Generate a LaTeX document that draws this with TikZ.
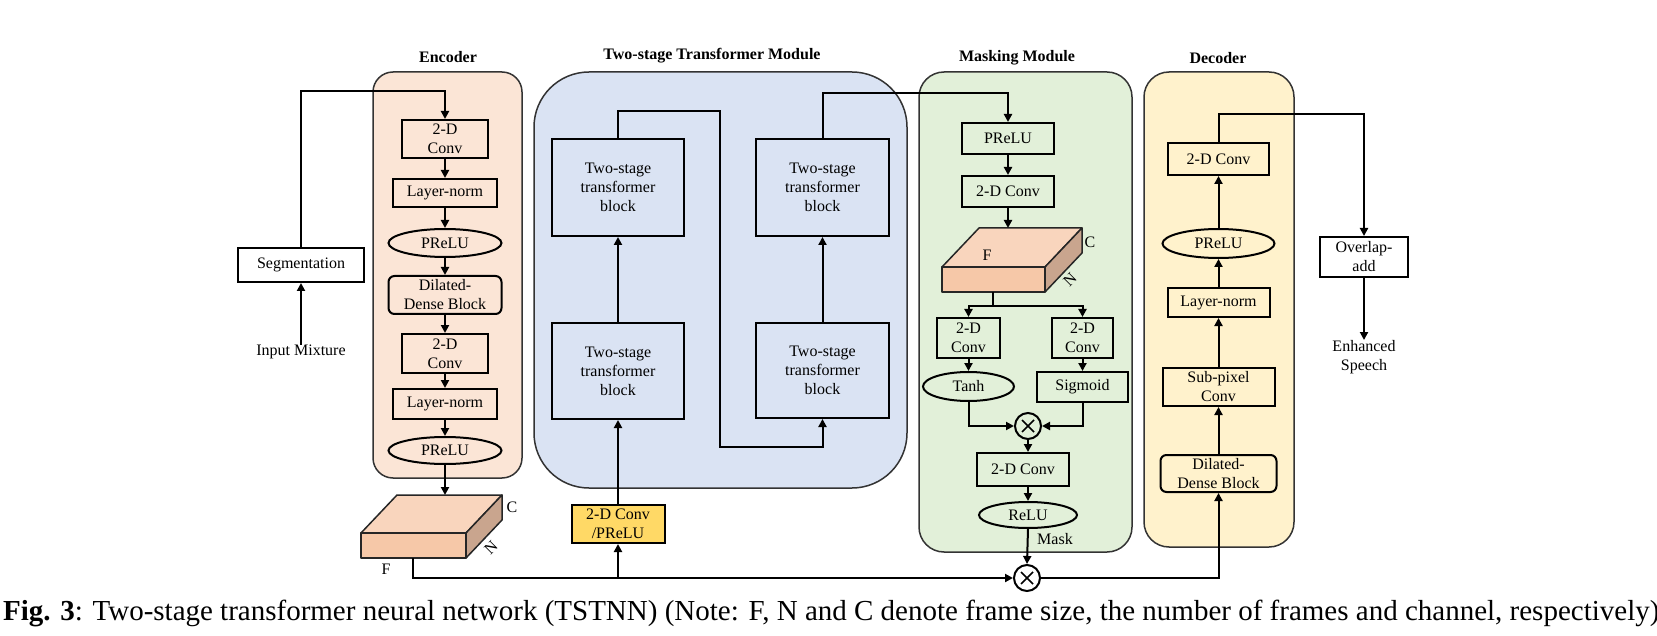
\documentclass[tikz,border=0pt]{standalone}
\usepackage{fontspec}
\setmainfont{Liberation Serif}
\usetikzlibrary{arrows.meta,shapes.geometric,calc}
\definecolor{encbg}{HTML}{FBE5D6}
\definecolor{tsbg}{HTML}{DAE3F3}
\definecolor{maskbg}{HTML}{E2F0D9}
\definecolor{decbg}{HTML}{FFF2CC}
\definecolor{cubetop}{HTML}{F9D5BD}
\definecolor{cubefront}{HTML}{F6C8A8}
\definecolor{cubeside}{HTML}{C9A58E}
\definecolor{convyel}{HTML}{FFD966}
\definecolor{modline}{HTML}{333333}
\newcommand\dfs{\fontsize{16}{19}\selectfont}
\begin{document}
\begin{tikzpicture}[x=1pt,y=-1pt,
  blk/.style={draw,line width=2pt,inner sep=0pt,align=center,font=\dfs},
  rblk/.style={blk,rounded corners=6pt},
  ell/.style={blk,ellipse},
  modbox/.style={draw=modline,line width=1.5pt},
  ln/.style={line width=2pt},
  arr/.style={ln,-{Triangle[length=8pt,width=8pt]}},
  ttl/.style={font=\dfs\bfseries,inner sep=0pt},
  lbl/.style={font=\dfs,inner sep=0pt,align=center},
  cubeedge/.style={draw=black!85,line width=1.5pt,line join=round},
  mult/.style={draw,circle,line width=2pt,minimum size=26pt,inner sep=0pt},
]
\useasboundingbox (0,0) rectangle (1657,636);
\fill[white] (0,0) rectangle (1657,636);

% module backgrounds
\draw[modbox,fill=encbg,rounded corners=20pt] (373,72) rectangle (522,478);
\draw[modbox,fill=tsbg,rounded corners=55pt] (534,72) rectangle (907,488);
\draw[modbox,fill=maskbg,rounded corners=25pt] (919,72) rectangle (1132,552);
\draw[modbox,fill=decbg,rounded corners=25pt] (1144,72) rectangle (1294,547);

% titles
\node[ttl] (tenc) at (448,57) {Encoder};
\node[ttl] (tts) at (712,56) {Two-stage Transformer Module};
\node[ttl] (tmask) at (1017,58) {Masking Module};
\node[ttl] (tdec) at (1218,58) {Decoder};

% left input
\node[blk,minimum width=126pt,minimum height=34pt] (seg) at (301,265) {Segmentation};
\node[lbl] (im) at (301,352) {Input Mixture};
\draw[arr] (im.north) -- (seg.south);

% encoder
\node[blk,minimum width=86pt,minimum height=38pt] (ec1) at (445,139) {2-D\\Conv};
\node[blk,minimum width=104pt,minimum height=28pt] (eln1) at (445,193) {Layer-norm};
\node[ell,minimum width=113pt,minimum height=28pt] (ep1) at (445,243) {PReLU};
\node[rblk,minimum width=113pt,minimum height=38pt] (edd) at (445,295) {Dilated-\\Dense Block};
\node[blk,minimum width=86pt,minimum height=39pt] (ec2) at (445,353.5) {2-D\\Conv};
\node[blk,minimum width=104pt,minimum height=30pt] (eln2) at (445,404) {Layer-norm};
\node[ell,minimum width=113pt,minimum height=27pt] (ep2) at (445,450.5) {PReLU};
\coordinate (segup) at (301,91);
\draw[arr] (seg.north) -- (segup) -| (ec1.north);
\draw[arr] (ec1) -- (eln1);
\draw[arr] (eln1) -- (ep1);
\draw[arr] (ep1) -- (edd);
\draw[arr] (edd) -- (ec2);
\draw[arr] (ec2) -- (eln2);
\draw[arr] (eln2) -- (ep2);

% encoder cube
\filldraw[cubeedge,fill=cubetop] (361,533) -- (466,533) -- (502,495) -- (397,495) -- cycle;
\filldraw[cubeedge,fill=cubeside] (466,533) -- (502,495) -- (502,520) -- (466,558) -- cycle;
\filldraw[cubeedge,fill=cubefront] (361,533) rectangle (466,558);
\coordinate (ecubetop) at (445,495);
\coordinate (ecubebot) at (413,558);
\draw[arr] (ep2.south) -- (ecubetop);
\node[lbl] (ecC) at (512,507) {C};
\node[lbl,rotate=45] (ecN) at (491,548) {N};
\node[lbl] (ecF) at (386,569) {F};

% transformer module
\node[blk,fill=convyel,minimum width=93pt,minimum height=38pt] (cp) at (618,524) {2-D Conv\\/PReLU};
\node[blk,minimum width=132pt,minimum height=97pt,text width=120pt] (tb1) at (618,187.5) {Two-stage\\transformer\\block};
\node[blk,minimum width=132pt,minimum height=96pt,text width=120pt] (tb2) at (618,371) {Two-stage\\transformer\\block};
\node[blk,minimum width=133pt,minimum height=97pt,text width=120pt] (tb3) at (822.5,187.5) {Two-stage\\transformer\\block};
\node[blk,minimum width=133pt,minimum height=95pt,text width=120pt] (tb4) at (822.5,370.5) {Two-stage\\transformer\\block};
\draw[arr] (cp.north) -- (tb2.south);
\draw[arr] (tb2.north) -- (tb1.south);
\coordinate (t1a) at (618,111);
\coordinate (t1b) at (720,111);
\coordinate (t1c) at (720,447);
\draw[arr] (tb1.north) -- (t1a) -- (t1b) -- (t1c) -| (tb4.south);
\draw[arr] (tb4.north) -- (tb3.south);
\coordinate (t3a) at (822.5,93);

% masking module
\node[blk,minimum width=92pt,minimum height=31pt] (mp) at (1008,138.5) {PReLU};
\node[blk,minimum width=92pt,minimum height=31pt] (mc1) at (1008,191.5) {2-D Conv};
\draw[arr] (tb3.north) -- (t3a) -| (mp.north);
\draw[arr] (mp) -- (mc1);
\filldraw[cubeedge,fill=cubetop] (942,267) -- (1045,267) -- (1082,228) -- (979,228) -- cycle;
\filldraw[cubeedge,fill=cubeside] (1045,267) -- (1082,228) -- (1082,253) -- (1045,292) -- cycle;
\filldraw[cubeedge,fill=cubefront] (942,267) rectangle (1045,292);
\coordinate (mcubetop) at (1008,228);
\coordinate (mcubebot) at (993,292);
\draw[arr] (mc1.south) -- (mcubetop);
\node[lbl] (mcF) at (987,255) {F};
\node[lbl] (mcC) at (1090,242) {C};
\node[lbl,rotate=45] (mcN) at (1070,280) {N};
\node[blk,minimum width=63pt,minimum height=40pt] (mcl) at (968.5,338) {2-D\\Conv};
\node[blk,minimum width=61pt,minimum height=40pt] (mcr) at (1082.5,338) {2-D\\Conv};
\coordinate (msplit) at (993,306);
\coordinate (msl) at (968.5,306);
\coordinate (msr) at (1082.5,306);
\draw[ln] (mcubebot) -- (msplit);
\draw[arr] (msplit) -- (msl) -- (mcl.north);
\draw[arr] (msplit) -- (msr) -- (mcr.north);
\node[ell,minimum width=91pt,minimum height=29pt] (tanh) at (968.5,386.5) {Tanh};
\node[blk,minimum width=91pt,minimum height=30pt] (sig) at (1082.5,387) {Sigmoid};
\draw[arr] (mcl) -- (tanh);
\draw[arr] (mcr) -- (sig);
\node[mult] (mx) at (1028,426) {};
\draw[line width=1.6pt] ($(mx.center)+(-6,-6)$) -- ($(mx.center)+(6,6)$) ($(mx.center)+(-6,6)$) -- ($(mx.center)+(6,-6)$);
\draw[arr] (tanh.south) |- (mx.west);
\draw[arr] (sig.south) |- (mx.east);
\node[blk,minimum width=92pt,minimum height=33pt] (mc2) at (1023,469.5) {2-D Conv};
\draw[arr] (mx.south) -- (mx.south |- mc2.north);
\node[ell,minimum width=98pt,minimum height=26pt] (relu) at (1028,515) {ReLU};
\draw[arr] (mc2.south -| relu.north) -- (relu.north);
\node[lbl] (mask) at (1055,539) {Mask};

% bottom multiply
\node[mult] (bx) at (1027,578) {};
\draw[line width=1.6pt] ($(bx.center)+(-6,-6)$) -- ($(bx.center)+(6,6)$) ($(bx.center)+(-6,6)$) -- ($(bx.center)+(6,-6)$);
\draw[arr] (relu.south) -- (bx.north);
\draw[arr] (ecubebot) |- (bx.west);
\coordinate (brc) at (618,578);
\draw[arr] (brc) -- (cp.south);

% decoder
\node[blk,minimum width=101pt,minimum height=32pt] (dc) at (1218.5,159) {2-D Conv};
\node[ell,minimum width=112pt,minimum height=29pt] (dp) at (1218.5,243.5) {PReLU};
\node[blk,minimum width=102pt,minimum height=29pt] (dln) at (1218.5,302.5) {Layer-norm};
\node[blk,minimum width=112pt,minimum height=38pt] (dsp) at (1218.5,387) {Sub-pixel\\Conv};
\node[rblk,minimum width=116pt,minimum height=37pt] (ddd) at (1218.5,473.5) {Dilated-\\Dense Block};
\draw[arr] (bx.east) -| (ddd.south);
\draw[arr] (ddd) -- (dsp);
\draw[arr] (dsp) -- (dln);
\draw[arr] (dln) -- (dp);
\draw[arr] (dp) -- (dc);
\node[blk,minimum width=88pt,minimum height=40pt] (ov) at (1364,257) {Overlap-\\add};
\coordinate (dtop) at (1218.5,114);
\draw[arr] (dc.north) -- (dtop) -| (ov.north);
\node[lbl,anchor=north] (es) at (1364,340) {Enhanced\\Speech};
\draw[arr] (ov.south) -- (es.north);

% caption
\node[anchor=base west,inner sep=0pt,font=\fontsize{29}{34}\selectfont] (cap) at (3,620) {\textbf{Fig. 3}: Two-stage transformer neural network (TSTNN) (Note: F, N and C denote frame size, the number of frames and channel, respectively)};
\end{tikzpicture}
\end{document}
